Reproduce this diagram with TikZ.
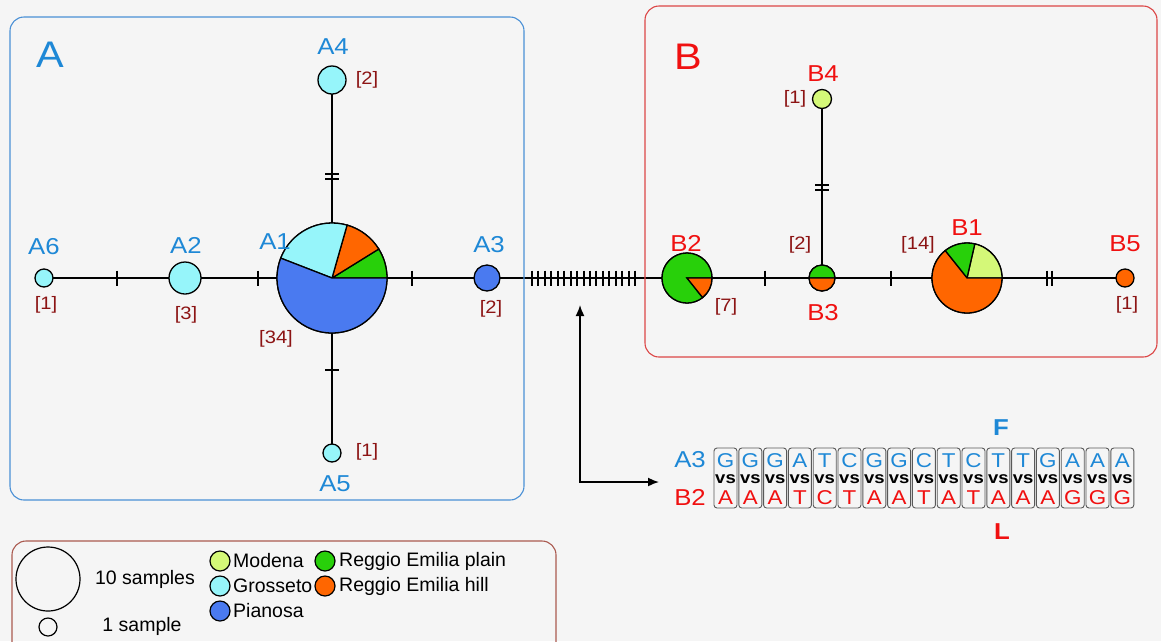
\documentclass[tikz,border=0pt]{standalone}
\usepackage{fontspec}
\setmainfont{Liberation Sans}[FakeStretch=1.12]
\newfontfamily\legfont{Liberation Sans}
\usetikzlibrary{arrows.meta,calc}
\pgfdeclarelayer{back}
\pgfdeclarelayer{edges}
\pgfsetlayers{back,edges,main}
\definecolor{bgc}{RGB}{245,245,245}
\definecolor{lblue}{RGB}{30,136,214}
\definecolor{lred}{RGB}{240,16,16}
\definecolor{cnt}{RGB}{140,20,20}
\definecolor{pianosa}{RGB}{74,122,240}
\definecolor{grosseto}{RGB}{150,245,250}
\definecolor{modena}{RGB}{212,248,120}
\definecolor{replain}{RGB}{40,208,10}
\definecolor{rehill}{RGB}{255,102,0}
\definecolor{aframe}{RGB}{74,144,214}
\definecolor{bframe}{RGB}{220,70,70}
\definecolor{legframe}{RGB}{170,90,80}
% one pie slice of a haplotype circle: node, radius, start angle, end angle, colour
\newcommand\slice[5]{%
  \filldraw[fill=#5, draw=black, line width=1.3pt]
    (#1.center) -- ++({-(#3)}:#2) arc[start angle={-(#3)}, end angle={-(#4)}, radius=#2] -- cycle;}
\begin{document}
\begin{tikzpicture}[x=1pt, y=-1pt,
  hap/.style={circle, draw=black, line width=1.3pt, inner sep=0pt},
  edge/.style={draw=black, line width=1.8pt},
  tickline/.style={draw=black, line width=2pt},
  hname/.style={font=\fontsize{23}{26}\selectfont},
  aname/.style={hname, text=lblue},
  bname/.style={hname, text=lred},
  count/.style={font=\fontsize{18}{20}\selectfont, text=cnt},
  frame/.style={rounded corners=14pt, line width=1.1pt},
  base/.style={font=\fontsize{20}{21}\selectfont, inner sep=0pt},
  vsbox/.style={draw=black!65, line width=0.9pt, rounded corners=3pt, minimum width=23pt, minimum height=60pt, inner sep=0pt},
  legtext/.style={font=\legfont\fontsize{19.5}{22}\selectfont, inner sep=0pt},
  legdot/.style={circle, draw=black, line width=1.2pt, minimum size=20pt, inner sep=0pt}]
\useasboundingbox (0,0) rectangle (1161,641);
\begin{pgfonlayer}{back}
  \fill[bgc] (0,0) rectangle (1161,641);
\end{pgfonlayer}

% group frames
\draw[frame, draw=aframe] (10,17) rectangle (524,500);
\draw[frame, draw=bframe] (645,6) rectangle (1157,357);
\node[font=\fontsize{37}{40}\selectfont, text=lblue] (grpA) at (50,55) {A};
\node[font=\fontsize{37}{40}\selectfont, text=lred] (grpB) at (688,57) {B};

% haplotypes of group A
\node[hap, minimum size=110pt] (A1) at (332,278) {};
\node[hap, minimum size=32pt, fill=grosseto] (A2) at (185,278) {};
\node[hap, minimum size=26pt, fill=pianosa] (A3) at (487,278) {};
\node[hap, minimum size=28pt, fill=grosseto] (A4) at (332,80) {};
\node[hap, minimum size=18pt, fill=grosseto] (A5) at (332,453) {};
\node[hap, minimum size=18pt, fill=grosseto] (A6) at (44,278) {};
% haplotypes of group B
\node[hap, minimum size=70pt] (B1) at (967,278) {};
\node[hap, minimum size=50pt] (B2) at (687,278) {};
\node[hap, minimum size=26pt] (B3) at (822,278) {};
\node[hap, minimum size=19pt, fill=modena] (B4) at (822,99) {};
\node[hap, minimum size=18pt, fill=rehill] (B5) at (1125,278) {};

% pies
\slice{A1}{55}{0}{31.8}{replain}
\slice{A1}{55}{31.8}{74.1}{rehill}
\slice{A1}{55}{74.1}{158.8}{grosseto}
\slice{A1}{55}{158.8}{360}{pianosa}
\slice{B1}{35}{0}{77.1}{modena}
\slice{B1}{35}{77.1}{128.6}{replain}
\slice{B1}{35}{128.6}{360}{rehill}
\slice{B2}{25}{0}{308.6}{replain}
\slice{B2}{25}{308.6}{360}{rehill}
\slice{B3}{13}{0}{180}{replain}
\slice{B3}{13}{180}{360}{rehill}

% network edges
\begin{pgfonlayer}{edges}
  \draw[edge] (A6.center) -- (A2.center);
  \draw[edge] (A2.center) -- (A1.center);
  \draw[edge] (A1.center) -- (A3.center);
  \draw[edge] (A4.center) -- (A1.center);
  \draw[edge] (A1.center) -- (A5.center);
  \draw[edge] (A3.center) -- (B2.center);
  \draw[edge] (B2.center) -- (B3.center);
  \draw[edge] (B3.center) -- (B1.center);
  \draw[edge] (B4.center) -- (B3.center);
  \draw[edge] (B1.center) -- (B5.center);
  % mutation marks
  \draw[tickline] ($(A6.center)!0.518!(A2.center)$) ++(0,-7.5) -- ++(0,15);
  \draw[tickline] ($(A2.center)!0.497!(A1.center)$) ++(0,-7.5) -- ++(0,15);
  \draw[tickline] ($(A1.center)!0.516!(A3.center)$) ++(0,-7.5) -- ++(0,15);
  \draw[tickline] ($(A1.center)!0.526!(A5.center)$) ++(-7,0) -- ++(14,0);
  \draw[tickline] ($(A1.center)!0.515!(A4.center)$) ++(-7,-2.5) -- ++(14,0);
  \draw[tickline] ($(A1.center)!0.515!(A4.center)$) ++(-7,2.5) -- ++(14,0);
  \foreach \i in {0,...,16}
    \draw[tickline] ($(A3.center)!{0.225+\i*0.0322}!(B2.center)$) ++(0,-7.5) -- ++(0,15);
  \draw[tickline] ($(B2.center)!0.578!(B3.center)$) ++(0,-7.5) -- ++(0,15);
  \draw[tickline] ($(B3.center)!0.476!(B1.center)$) ++(0,-7.5) -- ++(0,15);
  \draw[tickline] ($(B3.center)!0.508!(B4.center)$) ++(-7,-2.5) -- ++(14,0);
  \draw[tickline] ($(B3.center)!0.508!(B4.center)$) ++(-7,2.5) -- ++(14,0);
  \draw[tickline] ($(B1.center)!0.525!(B5.center)$) ++(-2.5,-7.5) -- ++(0,15);
  \draw[tickline] ($(B1.center)!0.525!(B5.center)$) ++(2.5,-7.5) -- ++(0,15);
\end{pgfonlayer}

% haplotype names and sample counts
\node[aname] (A1-l) at (275,242) {A1};
\node[count] (A1-c) at (276,339) {[34]};
\node[aname] (A2-l) at (186,245) {A2};
\node[count] (A2-c) at (186,315) {[3]};
\node[aname] (A3-l) at (489,245) {A3};
\node[count] (A3-c) at (491,309) {[2]};
\node[aname] (A4-l) at (333,47) {A4};
\node[count] (A4-c) at (367,80) {[2]};
\node[aname] (A5-l) at (335,484) {A5};
\node[count] (A5-c) at (367,452) {[1]};
\node[aname] (A6-l) at (44,247) {A6};
\node[count] (A6-c) at (46,305) {[1]};
\node[bname] (B1-l) at (967,228) {B1};
\node[count] (B1-c) at (918,245) {[14]};
\node[bname] (B2-l) at (686,243) {B2};
\node[count] (B2-c) at (726,307) {[7]};
\node[bname] (B3-l) at (823,313) {B3};
\node[count] (B3-c) at (800,245) {[2]};
\node[bname] (B4-l) at (823,74) {B4};
\node[count] (B4-c) at (795,99) {[1]};
\node[bname] (B5-l) at (1125,244) {B5};
\node[count] (B5-c) at (1127,305) {[1]};

% link from the A3--B2 branch to the site comparison
\coordinate (arrtop) at (580,305);
\coordinate (arrend) at (659,482);
\draw[line width=1.6pt, {Latex[length=11pt,width=9pt]}-{Latex[length=11pt,width=9pt]}] (arrtop) |- (arrend);

% site-by-site comparison of A3 and B2
\node[hname, text=lblue] (rowA3) at (690,460) {A3};
\node[hname, text=lred] (rowB2) at (690,497) {B2};
\foreach \a/\b [count=\i from 0] in {G/A,G/A,G/A,A/T,T/C,C/T,G/A,G/A,C/T,T/A,C/T,T/A,T/A,G/A,A/G,A/G,A/G} {
  \node[vsbox] (site\i) at ({725.5+\i*24.8},478) {};
  \node[base, text=lblue] (top\i) at ({725.5+\i*24.8},461) {\a};
  \node[base, font=\bfseries\fontsize{16.5}{17}\selectfont] (vs\i) at ({725.5+\i*24.8},479) {vs};
  \node[base, text=lred] (bot\i) at ({725.5+\i*24.8},498) {\b};
}
\node[font=\bfseries\fontsize{23}{26}\selectfont, text=lblue] (aaF) at (1001,428) {F};
\node[font=\bfseries\fontsize{23}{26}\selectfont, text=lred] (aaL) at (1002,532) {L};

% legend
\draw[frame, draw=legframe] (12,541) rectangle (556,670);
\node[circle, draw=black, line width=1.2pt, minimum size=64pt, inner sep=0pt] (size10) at (48,579) {};
\node[circle, draw=black, line width=1.2pt, minimum size=18pt, inner sep=0pt] (size1) at (48,627) {};
\node[legtext] (size10-t) at (145,579) {10 samples};
\node[legtext] (size1-t) at (142,626) {1 sample};
\node[legdot, fill=modena] (kMod) at (220,561) {};
\node[legdot, fill=grosseto] (kGro) at (220,586) {};
\node[legdot, fill=pianosa] (kPia) at (220,611) {};
\node[legdot, fill=replain] (kRep) at (325,561) {};
\node[legdot, fill=rehill] (kReh) at (325,586) {};
\node[legtext, anchor=west] (kMod-t) at (233,561) {Modena};
\node[legtext, anchor=west] (kGro-t) at (233,586) {Grosseto};
\node[legtext, anchor=west] (kPia-t) at (233,611) {Pianosa};
\node[legtext, anchor=west] (kRep-t) at (339,561) {Reggio Emilia plain};
\node[legtext, anchor=west] (kReh-t) at (339,586) {Reggio Emilia hill};
\end{tikzpicture}
\end{document}
